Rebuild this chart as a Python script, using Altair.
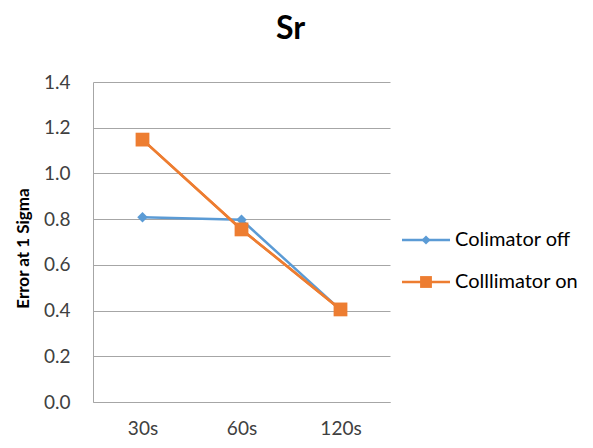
import altair as alt
import pandas as pd

categories = ["30s", "60s", "120s"]
series_names = ["Colimator off", "Colllimator on"]
colimator_off = [0.808, 0.797, 0.403]
collimator_on = [1.148, 0.755, 0.405]
y_ticks = [0.0, 0.2, 0.4, 0.6, 0.8, 1.0, 1.2, 1.4]
series_colors = ["#5B9BD5", "#ED7D31"]
series_shapes = ["diamond", "square"]

rows = []
for cat, v in zip(categories, colimator_off):
    rows.append({"time": cat, "series": series_names[0], "value": v})
for cat, v in zip(categories, collimator_on):
    rows.append({"time": cat, "series": series_names[1], "value": v})
df = pd.DataFrame(rows)
legend_df = pd.DataFrame({"series": series_names})

FONT = "Lato"
GRAY = "#A6A6A6"
TXT = "#404040"

color_scale = alt.Scale(domain=series_names, range=series_colors)
shape_scale = alt.Scale(domain=series_names, range=series_shapes)

x_enc = alt.X(
    "time:N", sort=categories,
    scale=alt.Scale(type="point", padding=0.5),
    axis=alt.Axis(title=None, labelAngle=0, ticks=False, grid=False,
                  domainColor=GRAY, domainWidth=1, labelPadding=17,
                  labelFontSize=19, labelFont=FONT, labelColor=TXT),
)
y_enc = alt.Y(
    "value:Q",
    scale=alt.Scale(domain=[0, 1.4], nice=False, zero=True),
    axis=alt.Axis(values=y_ticks, format=".1f", title="Error at 1 Sigma",
                  titleFont=FONT, titleFontSize=17, titleFontWeight="bold",
                  titleColor="#000000", titleX=-70, titleY=166, titleAngle=270,
                  titleAlign="center", titleBaseline="middle",
                  ticks=False, labelPadding=23, labelFontSize=19, labelFont=FONT,
                  labelColor=TXT, grid=True, gridColor=GRAY, gridWidth=1,
                  domainColor=GRAY, domainWidth=1),
)

base = alt.Chart(df).encode(
    x=x_enc, y=y_enc,
    color=alt.Color("series:N", scale=color_scale, legend=None),
)

lines = base.mark_line(strokeWidth=2.5)
pts_off = base.transform_filter(alt.datum.series == series_names[0]).mark_point(
    shape="diamond", size=110, filled=True, opacity=1)
lines_on = base.transform_filter(alt.datum.series == series_names[1]).mark_line(strokeWidth=2.5)
pts_on = base.transform_filter(alt.datum.series == series_names[1]).mark_point(
    shape="square", size=190, filled=True, opacity=1)

leg_y = alt.Y("series:N", sort=series_names, axis=None,
              scale=alt.Scale(type="point", padding=0, domain=series_names, range=[158, 200]))
leg_color = alt.Color("series:N", scale=color_scale, legend=None)
leg_base = alt.Chart(legend_df).encode(y=leg_y)
leg_rule = leg_base.mark_rule(strokeWidth=2.5).encode(
    x=alt.value(309), x2=alt.value(357), color=leg_color)
leg_pt = leg_base.mark_point(filled=True, opacity=1).encode(
    x=alt.value(333), color=leg_color,
    shape=alt.Shape("series:N", scale=shape_scale, legend=None),
    size=alt.Size("series:N", scale=alt.Scale(domain=series_names, range=[80, 140]), legend=None),
)
leg_text = leg_base.mark_text(align="left", baseline="middle", font=FONT, fontSize=20,
                              color="#000000").encode(x=alt.value(362), text="series:N")

plot = alt.layer(lines, pts_off, lines_on, pts_on)
legend = alt.layer(leg_rule, leg_pt, leg_text)

chart = alt.layer(plot, legend).resolve_scale(y="independent").properties(
    width=297, height=320,
    title=alt.TitleParams("Sr", font=FONT, fontSize=32, fontWeight="bold",
                          color="#000000", anchor="middle", dx=49, offset=27),
    autosize=alt.AutoSizeParams(type="none"),
    padding={"left": 85, "top": 74, "right": 195, "bottom": 38},
).configure_view(stroke=None)

chart.save("out.html", embed_options={"renderer": "svg", "actions": False})
